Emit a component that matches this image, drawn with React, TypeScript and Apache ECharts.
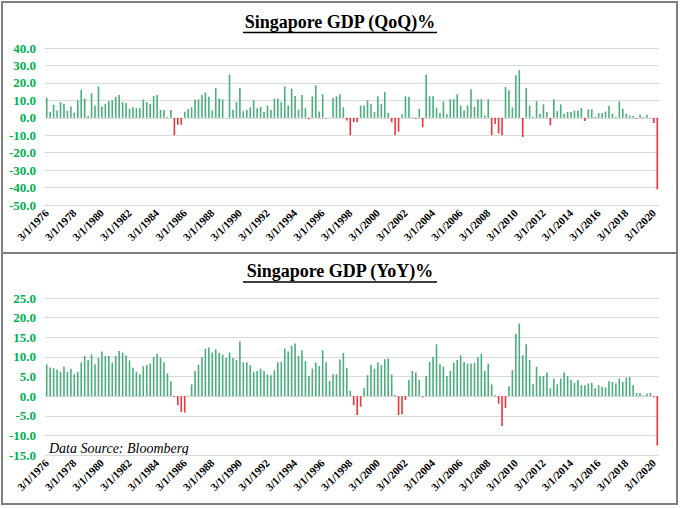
import { useEffect, useRef } from "react";
import * as echarts from "echarts";

// quarterly, 3/1/1976 .. 6/1/2020
const START_YEAR = 1976;
const QUARTER_MONTHS = [3, 6, 9, 12];
const QUARTER_COUNT = 178;

const QOQ = [
  11.5, 3.3, 7.5, 4.2, 9, 8, 4, 6.5, 3, 10, 16, 11, 1, 14, 7, 18,
  6.5, 8, 9.5, 10, 12, 13, 9, 8.5, 5, 6, 5.5, 5.5, 10.5, 9, 8, 12.5,
  13, 4.5, 4.5, 0.5, 4.5, -10, -4, -4, 3.5, 5, 6, 10.5, 10.5, 13, 14.5, 12,
  4.2, 17, 11, 10.5, 0.2, 24.8, 4.6, 9, 17, 3.8, 4.6, 6, 10, 5.5, 6.3, 3.3,
  7, 4.6, 11, 11, 9, 18, 7, 16.7, 12.5, 4.6, 13, 5.5, -0.8, 12.3, 18.6, 3.6,
  13.5, -0.3, 0.2, 11.3, 12.3, 13.5, 6, -1.5, -10, -2.5, -2.5, 7, 7, 10, 7.7, 3.3,
  12.3, 8, 14.8, 2.7, -2.5, -10, -8, 2, 12.3, 12, 0.4, -0.5, 5.2, -5.4, 24.8, 12.3,
  12.3, 5.6, 2.7, 9.4, 2, 10.6, 10.6, 13.5, 7, 4.2, 7, 16.3, 6.2, 10.6, 10.6, 1.3,
  10.6, -10, -3.5, -9, -10, 17.7, 15.8, 6, 24.4, 27.3, -11, 17, 7, 0.4, 9.6, 2.3,
  7.7, 3.3, -4.4, 10.6, 3.8, 7.7, 2.3, 3.3, 3.3, 4.2, 4.2, 5.6, -1.9, 4.8, 4.8, 0.4,
  2.7, 2.7, 3.6, 6.7, 2.3, 0.4, 9.4, 5.2, 2.3, 1.3, 1, -0.6, 1.9, 0.4, 1.7, -0.2,
  -3, -41,
];

const YOY = [
  8.1, 7.3, 7.1, 6.8, 6.2, 7.5, 6.2, 7, 5.6, 6.2, 8.6, 10.2, 9.2, 10.6, 8.1, 9.7,
  11.4, 10.2, 10.2, 8.5, 10.2, 11.5, 11.1, 10.4, 9.1, 7.2, 6.2, 5.6, 7.6, 7.9, 8.3, 10,
  10.8, 9.8, 8.6, 5.8, 3.8, -0.2, -2.3, -4, -4.2, 0.1, 3, 6.4, 8, 10, 12.1, 12.4,
  11.1, 11.9, 11, 10.6, 9.7, 11.1, 9.7, 9.2, 14, 8.6, 8.6, 7.9, 6.2, 6.4, 7, 6.4,
  5.5, 5.3, 6.6, 8.6, 8.7, 12.1, 11.4, 12.8, 13.4, 10.2, 11.7, 8.9, 5.1, 7, 8.5, 7.7,
  11.7, 8.6, 3.9, 5.6, 5.6, 9.3, 11, 7.2, 1.4, -2.3, -4.8, -2.7, 2, 5.3, 8, 7,
  8.6, 7.9, 9.4, 9.6, 5.5, 0.3, -4.8, -4.6, -1, 4.1, 6.4, 6, 4.1, -0.3, 5.1, 8.7,
  10, 13.2, 8.1, 7.5, 5.1, 6.4, 8.5, 9.2, 10.4, 8.7, 8.3, 8.3, 8.5, 9.9, 10.8, 6.4,
  8.3, 3, 0.2, -1.9, -7.6, -3, 2.5, 6.6, 15.9, 18.5, 10.4, 13.2, 9.2, 3, 7.5, 5.2,
  5.1, 6, 2, 4.5, 3, 4.5, 6, 5.1, 4.1, 3.4, 4.2, 2.8, 2.8, 3.2, 3.4, 2,
  2.8, 2.4, 2.2, 3.8, 3.6, 3.2, 4.5, 3.6, 4.7, 4.9, 2.8, 0.8, 0.8, 0.2, 0.7, 0.8,
  -0.3, -12.6,
];

const QOQ_TICKS = { min: -50, max: 40, interval: 10 };
const YOY_TICKS = { min: -15, max: 25, interval: 5 };

const GREEN = "#4aae7c";
const RED = "#f0333d";
const SERIF = '"Times New Roman", "Liberation Serif", "DejaVu Serif", serif';

function buildCategories() {
  const out: string[] = [];
  for (let y = START_YEAR; out.length < QUARTER_COUNT; y++) {
    for (const m of QUARTER_MONTHS) {
      if (out.length < QUARTER_COUNT) out.push(`${m}/1/${y}`);
    }
  }
  return out;
}

export default function App() {
  const chartRef = useRef<HTMLDivElement>(null);

  useEffect(() => {
    document.body.style.margin = "0";
    if (!chartRef.current) return;

    const chart = echarts.init(chartRef.current, null, { renderer: "svg" });
    const categories = buildCategories();

    const xAxis = (gridIndex: number) => ({
      type: "category",
      gridIndex,
      data: categories,
      axisLine: { show: false },
      axisTick: { show: false },
      axisLabel: {
        interval: 7,
        rotate: 45,
        margin: 6,
        fontFamily: SERIF,
        fontWeight: "bold",
        fontSize: 11,
        color: "#000",
      },
    });

    const yAxis = (gridIndex: number, ticks: typeof QOQ_TICKS) => ({
      type: "value",
      gridIndex,
      ...ticks,
      axisLine: { show: false },
      axisTick: { show: false },
      splitLine: { lineStyle: { color: "#d9d9d9", width: 1 } },
      axisLabel: {
        formatter: (v: number) => v.toFixed(1),
        fontFamily: SERIF,
        fontWeight: "bold",
        fontSize: 13,
        color: "#00b050",
        margin: 9,
      },
    });

    const bars = (idx: number, data: number[]) => ({
      type: "bar",
      xAxisIndex: idx,
      yAxisIndex: idx,
      data,
      barWidth: 1.6,
      itemStyle: {
        color: (p: any) => (p.value >= 0 ? GREEN : RED),
      },
    });

    const titleText = (text: string, y: number) => ({
      type: "text",
      x: 340,
      y,
      style: {
        text,
        fontFamily: SERIF,
        fontWeight: "bold",
        fontSize: 18,
        fill: "#000",
        align: "center",
        verticalAlign: "bottom",
      },
    });

    const underline = (y: number) => ({
      type: "line",
      shape: { x1: 243, y1: y, x2: 437, y2: y },
      style: { stroke: "#000", lineWidth: 1.3 },
    });

    chart.setOption({
      animation: false,
      grid: [
        { left: 45, width: 614, top: 48, height: 157 },
        { left: 45, width: 614, top: 298, height: 157 },
      ],
      xAxis: [xAxis(0), xAxis(1)],
      yAxis: [yAxis(0, QOQ_TICKS), yAxis(1, YOY_TICKS)],
      series: [bars(0, QOQ), bars(1, YOY)],
      graphic: [
        {
          type: "rect",
          shape: { x: 2, y: 2, width: 675, height: 502 },
          style: { fill: "none", stroke: "#7f7f7f", lineWidth: 2 },
        },
        {
          type: "line",
          shape: { x1: 2, y1: 253, x2: 677, y2: 253 },
          style: { stroke: "#7f7f7f", lineWidth: 2 },
        },
        titleText("Singapore GDP (QoQ)%", 31),
        underline(32.5),
        titleText("Singapore GDP (YoY)%", 280),
        underline(282),
        {
          type: "text",
          x: 49,
          y: 455,
          style: {
            text: "Data Source: Bloomberg",
            fontFamily: SERIF,
            fontStyle: "italic",
            fontSize: 14,
            fill: "#000",
            verticalAlign: "bottom",
          },
        },
      ],
    });

    return () => chart.dispose();
  }, []);

  return <div ref={chartRef} style={{ width: 680, height: 508 }} />;
}
